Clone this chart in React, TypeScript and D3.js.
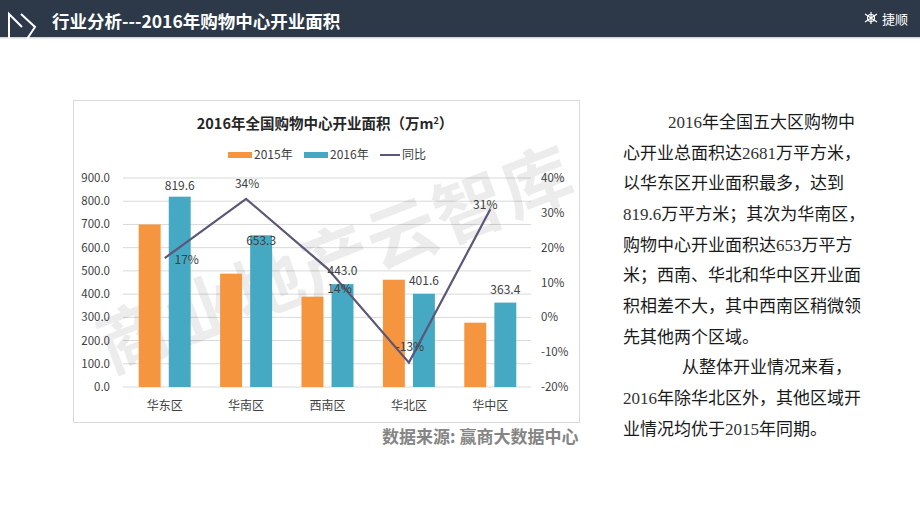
import React from 'react'
import * as d3 from 'd3'

const categories = ['华东区', '华南区', '西南区', '华北区', '华中区']
const series = ['2015年', '2016年']
const area2015 = [700, 488, 389, 462, 277]
const area2016 = [819.6, 653.3, 443.0, 401.6, 363.4]
const yoy = [17, 34, 14, -13, 31]
const leftTicks = [0, 100, 200, 300, 400, 500, 600, 700, 800, 900]
const rightTicks = [-20, -10, 0, 10, 20, 30, 40]

const paragraph = [
  '2016年全国五大区购物中',
  '心开业总面积达2681万平方米，',
  '以华东区开业面积最多，达到',
  '819.6万平方米；其次为华南区，',
  '购物中心开业面积达653万平方',
  '米；西南、华北和华中区开业面',
  '积相差不大，其中西南区稍微领',
  '先其他两个区域。',
  '从整体开业情况来看，',
  '2016年除华北区外，其他区域开',
  '业情况均优于2015年同期。',
]

const W = 920
const H = 518
const cjk = '"Noto Sans CJK SC", "Noto Sans", sans-serif'
const orange = '#f6953f'
const teal = '#46a9c3'
const lineColor = '#5d5677'

// label nudges (px) so they sit like the original
const valueNudge = [2, 19, 0, 0, 0]
const pctNudge: [number, number][] = [[22, 6], [1, -11], [12, 24], [1, -12], [-5, 0]]

// split digits out so they render in a serif face like the source slide
function runs(s: string) {
  const parts = s.match(/[0-9.]+|[^0-9.]+/g) || []
  return parts.map((p, i) =>
    /^[0-9.]+$/.test(p)
      ? <tspan key={i} fontFamily='"Liberation Serif", serif' fill="#333">{p}</tspan>
      : <tspan key={i}>{p}</tspan>
  )
}

export default function App() {
  const x = d3.scaleBand<string>().domain(categories).range([124, 531])
  const x1 = d3.scaleBand<string>().domain(series).range([0, 52]).paddingInner(0.27)
  const yL = d3.scaleLinear().domain([0, 900]).range([387, 178])
  const yR = d3.scaleLinear().domain([-20, 40]).range([387, 178])
  const gx = (c: string) => (x(c) as number) + x.bandwidth() / 2 - 26
  const cx = (c: string) => (x(c) as number) + x.bandwidth() / 2

  const line = d3.line<number>()
    .x((_, i) => cx(categories[i]))
    .y(d => yR(d))

  return (
    <svg width={W} height={H} style={{ position: 'absolute', left: 0, top: 0, background: '#fff' }}>
      {/* header band */}
      <rect x={0} y={0} width={W} height={37} fill="#2d3948" />
      <rect x={0} y={37} width={W} height={1.5} fill="#d3d7dc" />
      <path d="M9,38 L9,14 L22,27 M21,14 L35,27 L27,39" fill="none" stroke="#fff" strokeWidth={2} />
      <text x={52} y={28} fill="#fff" fontSize={17.5} fontWeight={700} fontFamily={cjk}>
        行业分析---2016年购物中心开业面积
      </text>
      <g transform="translate(871,18)" stroke="#fff" strokeWidth={1.2}>
        <circle r={3.5} fill="none" />
        <path d="M-6,-4 L6,4 M-6,4 L6,-4 M0,-6 L0,6" />
      </g>
      <text x={882} y={24} fill="#fff" fontSize={13} fontFamily={cjk}>捷顺</text>

      {/* chart frame */}
      <rect x={73.5} y={100.5} width={506} height={322} fill="#fff" stroke="#d9d9d9" />
      <text x={325} y={129} textAnchor="middle" fontSize={14.5} fontWeight={700} fill="#262626" fontFamily={cjk}>
        2016年全国购物中心开业面积（万m<tspan dy={-5} fontSize={9}>2</tspan><tspan dy={5}>）</tspan>
      </text>

      {/* legend */}
      <g fontSize={12} fill="#404040" fontFamily={cjk}>
        <rect x={228} y={152} width={24} height={6} fill={orange} />
        <text x={254} y={159}>{series[0]}</text>
        <rect x={304} y={152} width={24} height={6} fill={teal} />
        <text x={330} y={159}>{series[1]}</text>
        <line x1={380} x2={400} y1={155} y2={155} stroke={lineColor} strokeWidth={2} />
        <text x={402} y={159}>同比</text>
      </g>

      {/* gridlines */}
      {leftTicks.map(t => (
        <line key={t} x1={123} x2={531} y1={yL(t)} y2={yL(t)} stroke="#d9d9d9" strokeWidth={1} />
      ))}

      {/* watermark */}
      <text transform="translate(345,283) rotate(-21)" textAnchor="middle" fontSize={70} fontWeight={700}
        fill="#000" fillOpacity={0.075} fontFamily={cjk} letterSpacing={2}>
        商业地产云智库
      </text>

      {/* axis labels */}
      <g fontSize={11.5} fill="#404040" fontFamily={cjk}>
        {leftTicks.map(t => (
          <text key={t} x={110} y={yL(t) + 4} textAnchor="end">{d3.format('.1f')(t)}</text>
        ))}
        {rightTicks.map(t => (
          <text key={t} x={541} y={yR(t) + 4}>{t}%</text>
        ))}
        {categories.map(c => (
          <text key={c} x={cx(c)} y={410} textAnchor="middle" fontSize={12}>{c}</text>
        ))}
      </g>

      {/* bars */}
      {categories.map((c, i) => (
        <g key={c}>
          <rect x={gx(c) + (x1(series[0]) as number)} y={yL(area2015[i])} width={x1.bandwidth()}
            height={yL(0) - yL(area2015[i])} fill={orange} />
          <rect x={gx(c) + (x1(series[1]) as number)} y={yL(area2016[i])} width={x1.bandwidth()}
            height={yL(0) - yL(area2016[i])} fill={teal} />
        </g>
      ))}

      {/* yoy line */}
      <path d={line(yoy) || ''} fill="none" stroke={lineColor} strokeWidth={2.2} />

      {/* data labels */}
      <g fontSize={12} fill="#404040" fontFamily={cjk} textAnchor="middle">
        {categories.map((c, i) => (
          <text key={c} x={gx(c) + (x1(series[1]) as number) + x1.bandwidth() / 2}
            y={yL(area2016[i]) - 9 + valueNudge[i]}>{d3.format('.1f')(area2016[i])}</text>
        ))}
        {yoy.map((v, i) => (
          <text key={i} x={cx(categories[i]) + pctNudge[i][0]} y={yR(v) + pctNudge[i][1]}>{v}%</text>
        ))}
      </g>

      <text x={382} y={443} fontSize={17} fontWeight={700} fill="#858585" fontFamily={cjk}>
        数据来源:  赢商大数据中心
      </text>

      {/* commentary */}
      <g fontSize={17} fill="#1a1a1a" fontFamily={cjk}>
        {paragraph.map((s, i) => (
          <text key={i} x={i === 0 ? 668 : i === 8 ? 682 : 623} y={128 + i * 30.66}>{runs(s)}</text>
        ))}
      </g>
    </svg>
  )
}
